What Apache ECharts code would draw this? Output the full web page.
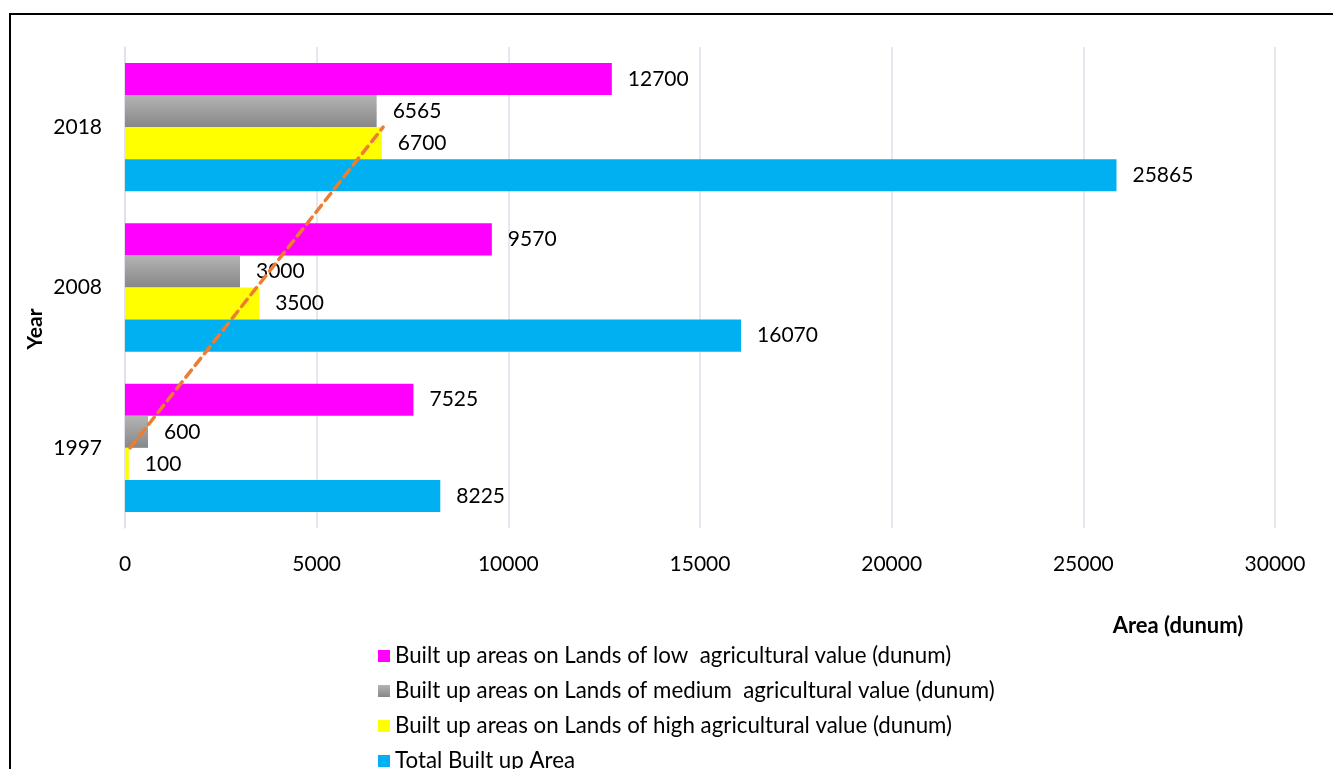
<!DOCTYPE html>
<html>
<head>
<meta charset="utf-8">
<script src="https://cdn.jsdelivr.net/npm/echarts@6/dist/echarts.min.js"></script>
<style>
  html, body { margin: 0; padding: 0; background: #fff; }
  #chart { width: 1333px; height: 769px; }
</style>
</head>
<body>
<div id="chart"></div>
<script>
// Survey years (category axis, bottom to top)
const years = ['1997', '2008', '2018'];

// Built-up area by land class, in dunum
const lowValue = [7525, 9570, 12700];
const mediumValue = [600, 3000, 6565];
const highValue = [100, 3500, 6700];
const totalBuiltUp = [8225, 16070, 25865];

const seriesNames = {
  low: 'Built up areas on Lands of low  agricultural value (dunum)',
  medium: 'Built up areas on Lands of medium  agricultural value (dunum)',
  high: 'Built up areas on Lands of high agricultural value (dunum)',
  total: 'Total Built up Area'
};

const xTicks = { min: 0, max: 30000, interval: 5000 };

// Linear trend of the high-value series over the category index (1, 2, 3)
function linearTrend(values) {
  const n = values.length;
  const xs = values.map((_, i) => i + 1);
  const mx = xs.reduce((a, b) => a + b, 0) / n;
  const my = values.reduce((a, b) => a + b, 0) / n;
  let sxy = 0, sxx = 0;
  for (let i = 0; i < n; i++) {
    sxy += (xs[i] - mx) * (values[i] - my);
    sxx += (xs[i] - mx) * (xs[i] - mx);
  }
  const slope = sxy / sxx;
  return xs.map(x => my + slope * (x - mx));
}
const highTrend = linearTrend(highValue);

const FONT = 'Lato, "Open Sans", sans-serif';
const labelStyle = {
  show: true,
  position: 'right',
  distance: 16,
  color: '#000',
  fontFamily: FONT,
  fontSize: 21
};

const grayGradient = new echarts.graphic.LinearGradient(0, 0, 0, 1, [
  { offset: 0, color: '#b4b4b4' },
  { offset: 1, color: '#878787' }
]);

const chart = echarts.init(document.getElementById('chart'), null, { renderer: 'canvas' });

chart.setOption({
  animation: false,
  textStyle: { fontFamily: FONT },
  grid: { left: 125, right: 58, top: 47, bottom: 241, containLabel: false },
  xAxis: {
    type: 'value',
    min: xTicks.min,
    max: xTicks.max,
    interval: xTicks.interval,
    axisLine: { show: false },
    axisTick: { show: false },
    axisLabel: {
      color: '#000', fontSize: 21, fontFamily: FONT, margin: 26,
      formatter: v => String(v)
    },
    splitLine: { show: true, lineStyle: { color: '#dde1e8', width: 1.5 } }
  },
  yAxis: {
    type: 'category',
    data: years,
    axisLine: { show: true, lineStyle: { color: '#dde1e8', width: 1.5 } },
    axisTick: { show: false },
    axisLabel: { color: '#000', fontSize: 21, fontFamily: FONT, margin: 23 }
  },
  legend: {
    orient: 'vertical',
    left: 373,
    top: 640,
    height: 200,
    itemWidth: 12,
    itemHeight: 12,
    itemGap: 13,
    icon: 'rect',
    textStyle: { color: '#000', fontSize: 22.3, fontFamily: FONT, lineHeight: 22 },
    data: [seriesNames.low, seriesNames.medium, seriesNames.high, seriesNames.total]
  },
  graphic: [
    {
      type: 'rect',
      shape: { x: 10, y: 14, width: 1400, height: 800 },
      style: { fill: null, stroke: '#000', lineWidth: 2 },
      silent: true
    },
    {
      type: 'text',
      x: 35,
      y: 329,
      rotation: Math.PI / 2,
      style: {
        text: 'Year',
        fontFamily: FONT,
        fontWeight: 'bold',
        fontSize: 21,
        fill: '#000',
        align: 'center',
        verticalAlign: 'middle'
      }
    },
    {
      type: 'text',
      x: 1178,
      y: 626,
      style: {
        text: 'Area (dunum)',
        fontFamily: FONT,
        fontWeight: 'bold',
        fontSize: 22,
        fill: '#000',
        align: 'center',
        verticalAlign: 'middle'
      }
    }
  ],
  series: [
    {
      name: seriesNames.low,
      type: 'bar',
      data: lowValue,
      barGap: '0%',
      barCategoryGap: '20%',
      itemStyle: { color: '#ff00ff' },
      label: labelStyle
    },
    {
      name: seriesNames.medium,
      type: 'bar',
      data: mediumValue,
      itemStyle: { color: grayGradient },
      label: labelStyle
    },
    {
      name: seriesNames.high,
      type: 'bar',
      data: highValue,
      itemStyle: { color: '#ffff00' },
      label: labelStyle
    },
    {
      name: seriesNames.total,
      type: 'bar',
      data: totalBuiltUp,
      itemStyle: { color: '#00b0f0' },
      label: labelStyle
    },
    {
      name: 'Linear trend (high)',
      type: 'line',
      data: highTrend.map((v, i) => [v, years[i]]),
      symbol: 'none',
      silent: true,
      z: 5,
      lineStyle: { color: '#ed7d31', width: 3.5, type: [9, 6], cap: 'round' }
    }
  ]
});
</script>
</body>
</html>
